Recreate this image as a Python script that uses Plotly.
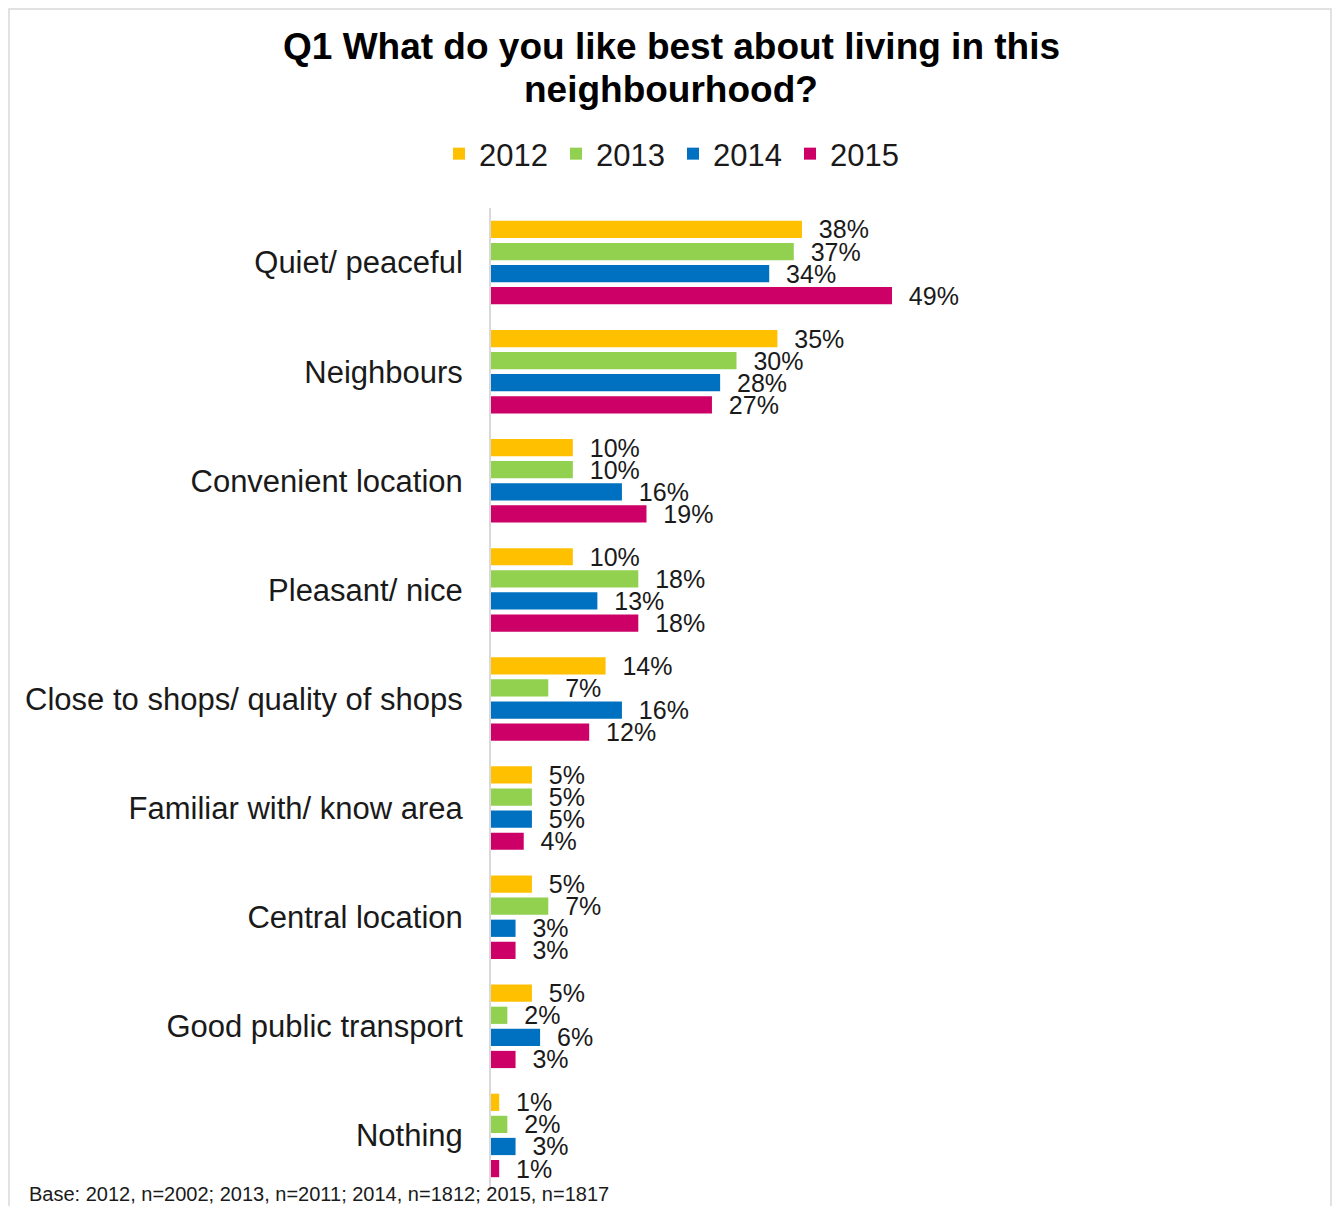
import plotly.graph_objects as go

categories = [
    "Quiet/ peaceful",
    "Neighbours",
    "Convenient location",
    "Pleasant/ nice",
    "Close to shops/ quality of shops",
    "Familiar with/ know area",
    "Central location",
    "Good public transport",
    "Nothing",
]
years = ["2012", "2013", "2014", "2015"]
v2012 = [38, 35, 10, 10, 14, 5, 5, 5, 1]
v2013 = [37, 30, 10, 18, 7, 5, 7, 2, 2]
v2014 = [34, 28, 16, 13, 16, 5, 3, 6, 3]
v2015 = [49, 27, 19, 18, 12, 4, 3, 3, 1]
series = [v2012, v2013, v2014, v2015]
colors = ["#FFC000", "#92D050", "#0070C0", "#CC0066"]

title_lines = ["Q1 What do you like best about living in this", "neighbourhood?"]
footnote = "Base: 2012, n=2002; 2013, n=2011; 2014, n=1812; 2015, n=1817"

FONT = "Liberation Sans, Arial, sans-serif"
TXT = "#1a1a1a"

fig = go.Figure()
for name, vals, col in zip(years, series, colors):
    fig.add_trace(go.Bar(
        name=name,
        y=categories,
        x=vals,
        orientation="h",
        marker=dict(color=col, line=dict(width=0)),
        text=["\u00a0\u00a0" + f"{v}%" for v in vals],
        textposition="outside",
        textfont=dict(family=FONT, size=25, color=TXT),
        constraintext="none",
        cliponaxis=False,
        hoverinfo="skip",
    ))

# page has an 8px body margin; figure is placed at (8, 8)
OFF = 8
W, H = 1340 - 2 * OFF, 1214 - 2 * OFF
L, R, T, B = 491 - OFF, W - (982 - OFF), 208 - OFF, H - (1190 - OFF)
pw = W - L - R
ph = H - T - B

def px_x(x):  # page pixel -> paper x
    return (x - OFF - L) / pw

def px_y(y):  # page pixel -> paper y
    return (H - B - (y - OFF)) / ph

fig.update_layout(
    width=W, height=H,
    margin=dict(l=L, r=R, t=T, b=B, pad=0),
    paper_bgcolor="white",
    plot_bgcolor="white",
    barmode="group",
    bargap=0.19,
    bargroupgap=0.22,
    font=dict(family=FONT, color=TXT),
    legend=dict(
        orientation="h",
        x=px_x(673), xanchor="center",
        y=px_y(154), yanchor="middle",
        font=dict(family=FONT, size=31, color=TXT),
        traceorder="normal",
        entrywidth=72,
        bgcolor="rgba(0,0,0,0)",
    ),
    xaxis=dict(
        range=[0, 60],
        showgrid=False, zeroline=False, showline=False,
        showticklabels=False, ticks="",
    ),
    yaxis=dict(
        categoryorder="array", categoryarray=categories,
        autorange="reversed",
        showgrid=False, zeroline=False,
        showline=True, linecolor="#d9d9d9", linewidth=2,
        ticks="", ticklabelstandoff=20,
        tickfont=dict(family=FONT, size=31, color=TXT),
    ),
    showlegend=True,
)

fig.add_shape(
    type="rect", xref="paper", yref="paper",
    x0=px_x(9), x1=px_x(1331), y0=px_y(1225), y1=px_y(9),
    line=dict(color="#d9d9d9", width=1.5),
    fillcolor="rgba(0,0,0,0)", layer="below",
)

for line, yc in zip(title_lines, [47, 90]):
    fig.add_annotation(
        text="<b>" + line + "</b>", xref="paper", yref="paper",
        x=px_x(671), y=px_y(yc), xanchor="center", yanchor="middle",
        showarrow=False, font=dict(family=FONT, size=37, color="#000000"),
    )

fig.add_annotation(
    text=footnote, xref="paper", yref="paper",
    x=px_x(27), y=px_y(1194), xanchor="left", yanchor="middle",
    showarrow=False, font=dict(family=FONT, size=20, color=TXT),
)

fig.write_html("out.html")
